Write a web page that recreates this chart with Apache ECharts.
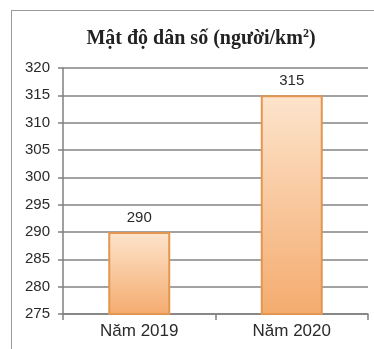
<!DOCTYPE html>
<html>
<head>
<meta charset="utf-8">
<script src="https://cdn.jsdelivr.net/npm/echarts@6/dist/echarts.min.js"></script>
<style>
  html, body { margin: 0; padding: 0; background: #fff; }
  #frame { position: absolute; left: 11px; top: 10px; width: 370px; height: 345px;
           border-left: 1.5px solid #9a9a9a; border-top: 1.5px solid #9a9a9a; }
  #chart { position: absolute; left: 0; top: 0; width: 374px; height: 349px; }
</style>
</head>
<body>
<div id="frame"></div>
<div id="chart"></div>
<script>
// Population density by year
const categories = ['Năm 2019', 'Năm 2020'];
const density = [290, 315];
const yTicks = { min: 275, max: 320, interval: 5 };

const chart = echarts.init(document.getElementById('chart'), null, { renderer: 'canvas' });

const barFill = new echarts.graphic.LinearGradient(0, 0, 0, 1, [
  { offset: 0, color: '#fde4cc' },
  { offset: 1, color: '#f4ab6e' }
]);

chart.setOption({
  animation: false,
  backgroundColor: 'transparent',
  title: {
    text: 'Mật độ dân số (người/km{sup|2})',
    left: 196,
    textAlign: 'center',
    top: 23,
    textStyle: {
      fontFamily: 'Liberation Serif, DejaVu Serif, serif',
      fontWeight: 'bold',
      fontSize: 20,
      color: '#222',
      rich: {
        sup: {
          fontFamily: 'Liberation Serif, DejaVu Serif, serif',
          fontWeight: 'bold',
          fontSize: 12,
          color: '#222',
          verticalAlign: 'top',
          padding: [0, 0, 9, 0]
        }
      }
    }
  },
  grid: { left: 63, right: 6, top: 68, bottom: 35, containLabel: false },
  xAxis: {
    type: 'category',
    data: categories,
    axisLine: { show: true, lineStyle: { color: '#808080', width: 1.5 } },
    axisTick: { show: true, alignWithLabel: false, length: 6, lineStyle: { color: '#808080', width: 1.5 } },
    axisLabel: { color: '#2a2a2a', fontSize: 17, fontFamily: 'Liberation Sans, Arial, sans-serif', margin: 9 },
    splitLine: { show: false }
  },
  yAxis: {
    type: 'value',
    min: yTicks.min,
    max: yTicks.max,
    interval: yTicks.interval,
    axisLine: { show: true, lineStyle: { color: '#808080', width: 1.5 } },
    axisTick: { show: true, length: 5, lineStyle: { color: '#808080', width: 1.5 } },
    axisLabel: { color: '#2a2a2a', fontSize: 15, fontFamily: 'Liberation Sans, Arial, sans-serif', margin: 13 },
    splitLine: { show: true, lineStyle: { color: '#838383', width: 1.5 } }
  },
  series: [{
    type: 'bar',
    data: density,
    barWidth: 62,
    itemStyle: { color: barFill, borderColor: '#e3964f', borderWidth: 2 },
    label: {
      show: true,
      position: 'top',
      distance: 7,
      color: '#2a2a2a',
      fontSize: 15,
      fontFamily: 'Liberation Sans, Arial, sans-serif'
    }
  }]
});
</script>
</body>
</html>
